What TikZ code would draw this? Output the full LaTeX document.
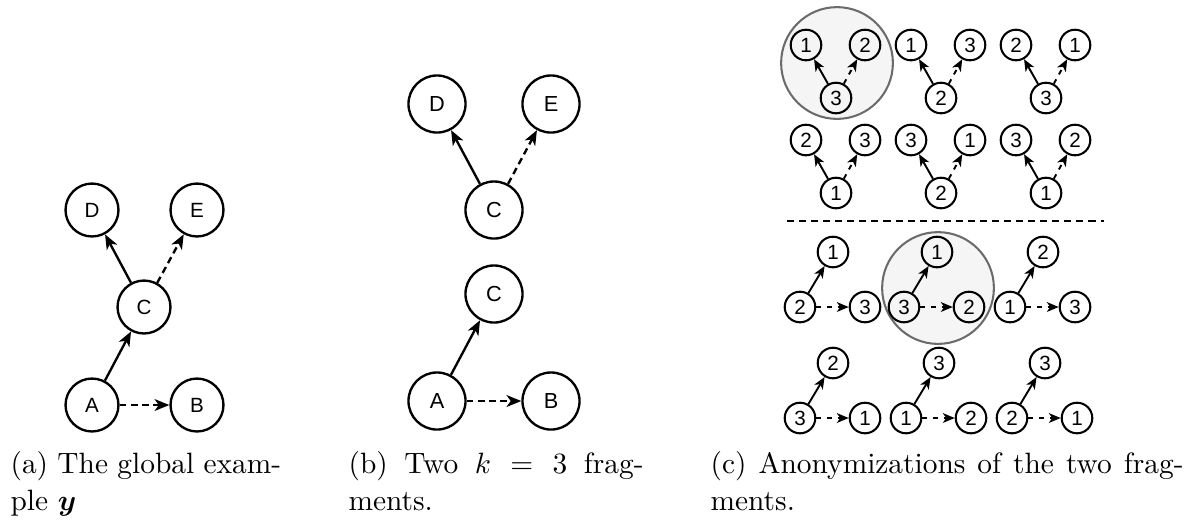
\documentclass[tikz,border=0pt]{standalone}
\usepackage{amsmath}
\usepackage{fontspec}
\newfontfamily\nodefont{Liberation Sans}
\usepackage{tikz}
\usetikzlibrary{arrows.meta}
\linespread{1.05}

\tikzset{
  vert/.style={circle,draw,line width=0.8pt,minimum size=18pt,inner sep=0pt,
    font=\nodefont\fontsize{7}{8}\selectfont},
  bigvert/.style={vert,minimum size=19.4pt,font=\nodefont\fontsize{7.4}{8}\selectfont},
  anon/.style={circle,draw,line width=0.7pt,minimum size=10.4pt,inner sep=0pt,
    font=\nodefont\fontsize{7}{8}\selectfont},
  solidlink/.style={line width=0.8pt,-{Stealth[length=5pt,width=4pt,inset=1.4pt]}},
  dashlink/.style={solidlink,dash pattern=on 2.3pt off 1.5pt},
  anonlink/.style={line width=0.65pt,-{Stealth[length=4pt,width=3.3pt,inset=1.1pt]}},
  anondash/.style={anonlink,dash pattern=on 1.7pt off 1.9pt},
  pick/.style={draw=black!58,fill=black!4,line width=0.7pt},
  subcap/.style={anchor=base west,align=justify,inner sep=0pt,font=\normalsize}
}

\begin{document}
\begin{tikzpicture}[x=0.34pt,y=-0.34pt]
  \useasboundingbox (0,0) rectangle (1191,521);

  % (a) global example
  \node[vert] (a-D) at (92,210) {D};
  \node[vert] (a-E) at (197,210) {E};
  \node[vert] (a-C) at (144,307) {C};
  \node[vert] (a-A) at (92,405) {A};
  \node[vert] (a-B) at (197,405) {B};
  \draw[solidlink] (a-A) -- (a-C);
  \draw[dashlink] (a-A) -- (a-B);
  \draw[solidlink] (a-C) -- (a-D);
  \draw[dashlink] (a-C) -- (a-E);
  \node[subcap,text width=92pt] (cap-a) at (10,473)
    {(a) The global exam-\linebreak ple $\boldsymbol{y}$};

  % (b) the two fragments
  \node[bigvert] (b-D) at (437,104) {D};
  \node[bigvert] (b-E) at (551,104) {E};
  \node[bigvert] (b-C1) at (494,210) {C};
  \draw[solidlink] (b-C1) -- (b-D);
  \draw[dashlink] (b-C1) -- (b-E);
  \node[bigvert] (b-C2) at (494,294) {C};
  \node[bigvert] (b-A) at (437,401) {A};
  \node[bigvert] (b-B) at (551,401) {B};
  \draw[solidlink] (b-A) -- (b-C2);
  \draw[dashlink] (b-A) -- (b-B);
  \node[subcap,text width=100.3pt] (cap-b) at (348,473)
    {(b) Two $k = 3$ frag-\linebreak ments.};

  % (c) anonymizations, picked ones in grey
  \draw[pick] (837,63) circle[radius=19pt];
  \draw[pick] (938,288) circle[radius=19pt];

  % first fragment: bottom node points to both top ones
  \foreach \cx/\cy/\l/\r/\b [count=\i] in
    {836/45/1/2/3, 941/45/1/3/2, 1046/45/2/1/3,
     836/140/2/3/1, 941/140/3/1/2, 1046/140/3/2/1}{
    \node[anon] (v\i-l) at (\cx-30,\cy) {\l};
    \node[anon] (v\i-r) at (\cx+29,\cy) {\r};
    \node[anon] (v\i-b) at (\cx,\cy+53) {\b};
    \draw[anonlink] (v\i-b) -- (v\i-l);
    \draw[anondash] (v\i-b) -- (v\i-r);
  }

  \coordinate (sep-l) at (787,221);
  \coordinate (sep-r) at (1104,221);
  \draw[line width=0.5pt,dash pattern=on 2.4pt off 1.7pt] (sep-l) -- (sep-r);

  % second fragment: left node points up and right
  \foreach \lx/\ty/\t/\l/\r [count=\i] in
    {800/252/1/2/3, 904/252/1/3/2, 1010/252/2/1/3,
     800/363/2/3/1, 906/363/3/1/2, 1012/363/3/2/1}{
    \node[anon] (w\i-t) at (\lx+33,\ty) {\t};
    \node[anon] (w\i-l) at (\lx,\ty+55) {\l};
    \node[anon] (w\i-r) at (\lx+65,\ty+55) {\r};
    \draw[anonlink] (w\i-l) -- (w\i-t);
    \draw[anondash] (w\i-l) -- (w\i-r);
  }
  \node[subcap,text width=160.8pt] (cap-c) at (710,473)
    {(c) Anonymizations of the two frag-\linebreak ments.};
\end{tikzpicture}
\end{document}
